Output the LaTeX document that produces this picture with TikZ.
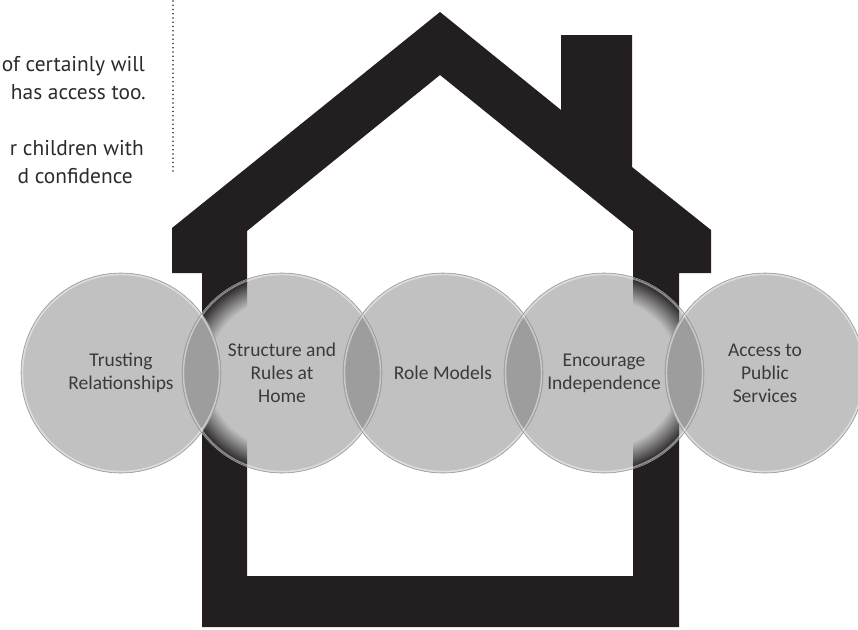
\documentclass[tikz,border=0pt]{standalone}
\usepackage{fontspec}
\setmainfont{Carlito}
\newfontfamily\bodyfont{PT Sans}

\definecolor{housefill}{HTML}{231F20}
\definecolor{discfill}{HTML}{C1C1C1}
\definecolor{lensfill}{HTML}{9D9D9D}
\definecolor{discedge}{HTML}{9C9C9C}
\definecolor{labeltext}{HTML}{3A3A3A}
\definecolor{bodytext}{HTML}{2B2B2B}

% gray in the middle of a disc, darkening towards its rim (wall seen through)
\pgfdeclareradialshading{rimshade}{\pgfpoint{0bp}{0bp}}{%
  color(0bp)=(discfill); color(18.5bp)=(discfill);
  color(25bp)=(housefill); color(50bp)=(housefill)}

\tikzset{
  disc/.style={circle, minimum size=200pt, inner sep=0pt, fill=discfill},
  disclabel/.style={align=center, inner sep=0pt, text=labeltext,
    font=\fontsize{19.5}{23}\selectfont},
  discrim/.style={draw=discedge, line width=0.6pt},
  discglow/.style={draw=white, draw opacity=0.45, line width=1.6pt},
  lens/.style={fill=lensfill},
  sidetext/.style={anchor=base east, inner sep=0pt, text=bodytext,
    font=\bodyfont\fontsize{21.4}{28}\selectfont},
  dotrule/.style={draw=bodytext, line width=1.7pt, line cap=round,
    dash pattern=on 0pt off 4.25pt},
}

\begin{document}
\begin{tikzpicture}[x=1pt, y=-1pt]
\useasboundingbox (0,0) rectangle (858,629);
\clip (0,0) rectangle (858,629);

% house outline with chimney
\fill[housefill, even odd rule]
  (202,627) -- (202,273) -- (172,273) -- (172,228) -- (440,12)
  -- (561,110) -- (561,35) -- (632,35) -- (632,167) -- (711,230)
  -- (711,273) -- (679,273) -- (679,627) -- cycle
  (247,576) -- (247,231) -- (440,75) -- (633,231) -- (633,576) -- cycle;

% the five discs
\node[disc] (c1) at (121,373) {};
\node[disc] (c2) at (282,373) {};
\node[disc] (c3) at (443,373) {};
\node[disc] (c4) at (604,373) {};
\node[disc] (c5) at (765,373) {};

% walls showing through near the disc rims
\begin{scope}
  \clip (202,200) rectangle (247,520);
  \clip (c2.center) circle[radius=100];
  \shade[shading=rimshade] (c2.center) circle[radius=100];
\end{scope}
\begin{scope}
  \clip (633,200) rectangle (679,520);
  \clip (c4.center) circle[radius=100];
  \shade[shading=rimshade] (c4.center) circle[radius=100];
\end{scope}

% overlaps of neighbouring discs
\foreach \a/\b in {c1/c2, c2/c3, c3/c4, c4/c5}{
  \begin{scope}
    \clip (\a.center) circle[radius=100];
    \fill[lens] (\b.center) circle[radius=100];
  \end{scope}
}

% disc outlines with a faint light inner rim
\foreach \c in {c1,c2,c3,c4,c5}{
  \draw[discglow] (\c.center) circle[radius=98.6];
  \draw[discrim] (\c.center) circle[radius=100];
}

% disc labels
\node[disclabel] (l1) at (c1) {Trusting\\Relationships};
\node[disclabel] (l2) at (c2) {Structure and\\Rules at\\Home};
\node[disclabel] (l3) at (c3) {Role Models};
\node[disclabel] (l4) at (c4) {Encourage\\Independence};
\node[disclabel] (l5) at (c5) {Access to\\Public\\Services};

% text column at the upper left
\node[sidetext] (t1) at (145,71) {of certainly will};
\node[sidetext] (t2) at (146,99) {has access too.};
\node[sidetext] (t3) at (144,155) {r children with};
\node[sidetext] (t4) at (133,183) {d confidence};

% dotted column rule
\coordinate (ruletop) at (173,1);
\coordinate (rulebot) at (173,173);
\draw[dotrule] (ruletop) -- (rulebot);
\end{tikzpicture}
\end{document}
